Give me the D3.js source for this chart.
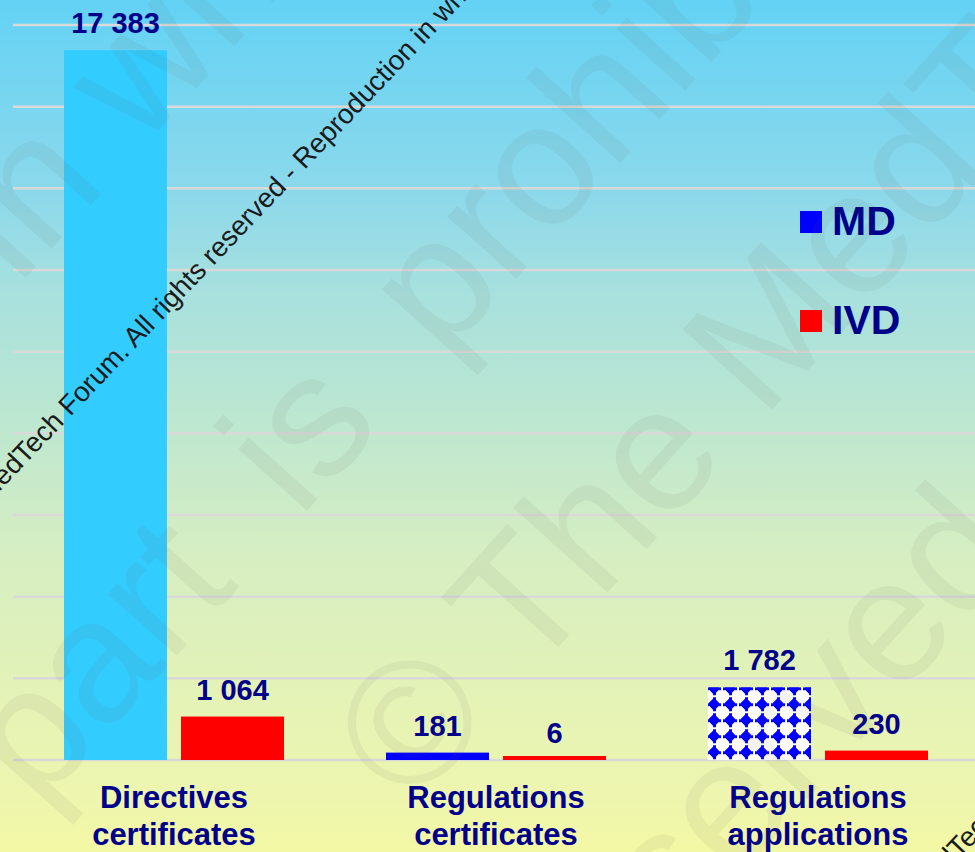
<!DOCTYPE html>
<html>
<head>
<meta charset="utf-8">
<script src="https://cdn.jsdelivr.net/npm/d3@7"></script>
<style>
  body { margin: 0; }
  svg { display: block; }
</style>
</head>
<body>
<script>
// chart data
const categories = ["Directives certificates", "Regulations certificates", "Regulations applications"];
const series = ["MD", "IVD"];
const mdValues = [17383, 181, 1782];
const ivdValues = [1064, 6, 230];
const gridTicks = [0, 2000, 4000, 6000, 8000, 10000, 12000, 14000, 16000, 18000];
const watermark = "© The MedTech Forum. All rights reserved - Reproduction in whole or in part is prohibited";

// styles
const mdFills = ["#33ccff", "#0000ff", "url(#dots)"];
const seriesColors = ["#0000ff", "#ff0000"];
const ink = "#00008b";
const font = "'Liberation Sans', Arial, sans-serif";

const width = 975, height = 852;
const margin = {top: 25, right: -4, bottom: 92, left: 13};

const fmt = d3.formatLocale({decimal: ".", thousands: " ", grouping: [3], currency: ["", ""]}).format(",");

const rows = categories.map((c, i) => ({
  category: c,
  values: [
    {key: "MD", value: mdValues[i], fill: mdFills[i]},
    {key: "IVD", value: ivdValues[i], fill: seriesColors[1]}
  ]
}));

const x0 = d3.scaleBand()
    .domain(categories)
    .range([margin.left, width - margin.right])
    .paddingInner(0.3168)
    .paddingOuter(0.1584);

const x1 = d3.scaleBand()
    .domain(series)
    .range([0, x0.bandwidth()])
    .paddingInner(0.12)
    .paddingOuter(0);

const y = d3.scaleLinear()
    .domain([0, 18000])
    .range([height - margin.bottom, margin.top]);

const svg = d3.select("body").append("svg")
    .attr("width", width)
    .attr("height", height)
    .attr("font-family", font);

const defs = svg.append("defs");

const grad = defs.append("linearGradient")
    .attr("id", "bg")
    .attr("x1", 0).attr("y1", 0).attr("x2", 0).attr("y2", 1);
[[0, "#63d2f5"], [0.235, "#8ed9ea"], [0.35, "#a9e1dd"], [0.45, "#b6e5d4"],
 [0.65, "#d6eec2"], [0.94, "#eef6ae"], [1, "#f3f8a4"]].forEach(([o, c]) =>
  grad.append("stop").attr("offset", o).attr("stop-color", c));

// dotted-diamond fill, aligned with the patterned bar
const patX = x0(categories[2]) + x1("MD");
const patY = y(mdValues[2]);
const pat = defs.append("pattern")
    .attr("id", "dots")
    .attr("patternUnits", "userSpaceOnUse")
    .attr("width", 16)
    .attr("height", 16)
    .attr("x", patX - 6)
    .attr("y", patY - 7);
pat.append("rect").attr("width", 16).attr("height", 16).attr("fill", "#fff");
const blob = pat.append("g")
    .attr("fill", "#0000ff")
    .attr("shape-rendering", "crispEdges");
blob.append("path").attr("d", "M8,1.8L14.2,8L8,14.2L1.8,8Z");
blob.append("rect").attr("x", 6.5).attr("y", 0.8).attr("width", 3).attr("height", 14.4);
blob.append("rect").attr("x", 0.8).attr("y", 6.5).attr("width", 14.4).attr("height", 3);

svg.append("rect")
    .attr("width", width)
    .attr("height", height)
    .attr("fill", "url(#bg)");

// gridlines
svg.append("g")
    .selectAll("line")
    .data(gridTicks)
    .join("line")
      .attr("x1", margin.left)
      .attr("x2", width)
      .attr("y1", d => y(d))
      .attr("y2", d => y(d))
      .attr("stroke", "#d9d9d9")
      .attr("stroke-width", 2.5);

// bars
const groups = svg.append("g")
  .selectAll("g")
  .data(rows)
  .join("g")
    .attr("transform", d => `translate(${x0(d.category)},0)`);

groups.selectAll("rect")
  .data(d => d.values)
  .join("rect")
    .attr("x", d => x1(d.key))
    .attr("width", x1.bandwidth())
    .attr("y", d => Math.min(y(d.value), y(0) - 4))
    .attr("height", d => Math.max(y(0) - y(d.value), 4))
    .attr("fill", d => d.fill);

groups.selectAll("text")
  .data(d => d.values)
  .join("text")
    .attr("x", d => x1(d.key) + x1.bandwidth() / 2)
    .attr("y", d => y(d.value) - 17)
    .attr("text-anchor", "middle")
    .attr("font-size", 29)
    .attr("font-weight", "bold")
    .attr("fill", ink)
    .text(d => fmt(d.value));

// category labels
const cat = svg.append("g")
  .selectAll("text")
  .data(categories)
  .join("text")
    .attr("x", d => x0(d) + x0.bandwidth() / 2)
    .attr("y", y(0) + 48)
    .attr("text-anchor", "middle")
    .attr("font-size", 31)
    .attr("font-weight", "bold")
    .attr("fill", ink);
cat.selectAll("tspan")
  .data(d => d.split(" "))
  .join("tspan")
    .attr("x", function() { return this.parentNode.getAttribute("x"); })
    .attr("dy", (d, i) => i ? 37 : 0)
    .text(d => d);

// legend
const legend = svg.append("g")
    .attr("transform", "translate(800,211)")
  .selectAll("g")
  .data(series)
  .join("g")
    .attr("transform", (d, i) => `translate(0,${i * 99})`);
legend.append("rect")
    .attr("width", 22)
    .attr("height", 22)
    .attr("fill", (d, i) => seriesColors[i]);
legend.append("text")
    .attr("x", 32)
    .attr("y", 24)
    .attr("font-size", 41)
    .attr("font-weight", "bold")
    .attr("fill", ink)
    .text(d => d);

// big faint watermark: [text, x, y, word spacing] in the rotated frame
const bigLines = [
  ["reserved - Reproduction in whole or in", -2127, 205, 0],
  ["part is prohibited", -576, 570, 40],
  ["© The MedTech Forum. All rights", -327, 848, 0],
  ["reserved - Reproduction in whole or in", -406, 1135, 0]
];
svg.append("g")
    .attr("transform", "rotate(-48)")
  .selectAll("text")
  .data(bigLines)
  .join("text")
    .attr("x", d => d[1])
    .attr("y", d => d[2])
    .attr("word-spacing", d => d[3])
    .attr("font-size", 175)
    .attr("fill", "rgba(100,100,80,0.075)")
    .text(d => d[0]);

// small copyright line
svg.append("g")
    .attr("transform", "rotate(-46.5)")
  .selectAll("text")
  .data([[-457, 338], [-100, 1287]])
  .join("text")
    .attr("x", d => d[0])
    .attr("y", d => d[1])
    .attr("font-size", 27.7)
    .attr("fill", "#1a1a1a")
    .text(watermark);
</script>
</body>
</html>
